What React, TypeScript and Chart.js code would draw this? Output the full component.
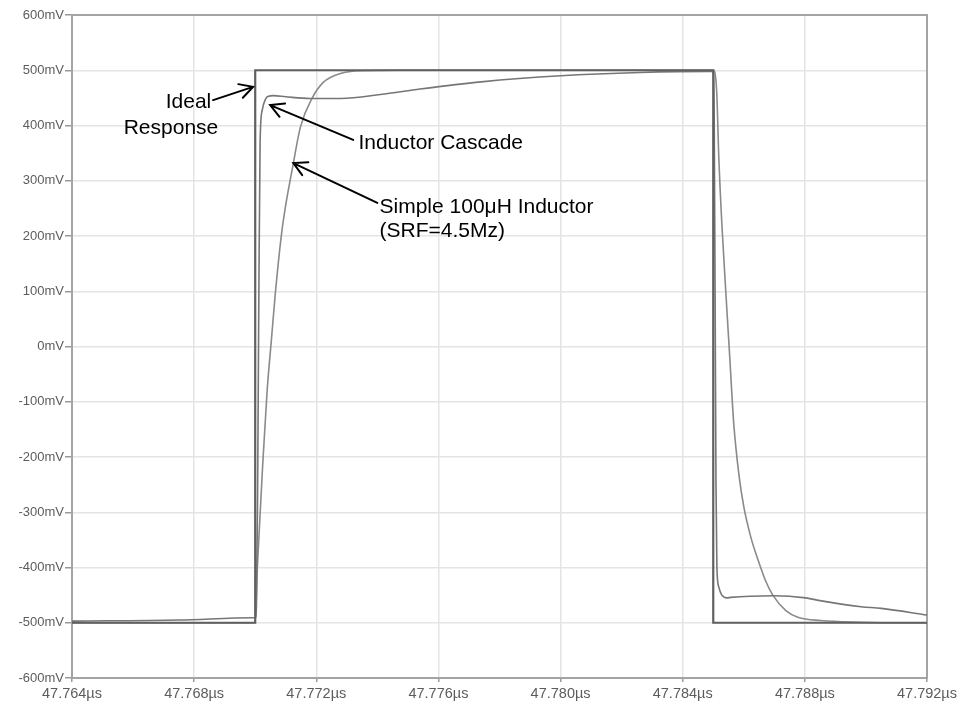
import React, { useEffect, useRef } from "react";
import { Chart, registerables } from "chart.js";

Chart.register(...registerables);

// Axis ticks (time in µs, voltage in mV)
const xTickValues = [47.764, 47.768, 47.772, 47.776, 47.78, 47.784, 47.788, 47.792];
const yTickValues = [-600, -500, -400, -300, -200, -100, 0, 100, 200, 300, 400, 500, 600];

// Ideal step response
const idealTime = [47.764, 47.77, 47.77, 47.785, 47.785, 47.792];
const idealMv = [-500, -500, 500, 500, -500, -500];

// Inductor cascade response
const cascadeTime = [
  47.764, 47.7675, 47.76995, 47.77, 47.77004, 47.77008, 47.77012, 47.77016, 47.77023,
  47.77033, 47.77043, 47.7706, 47.7710, 47.7718, 47.7728, 47.7741, 47.7754, 47.7774,
  47.78, 47.7826, 47.7849, 47.785, 47.78503, 47.78506, 47.78509, 47.78512, 47.78518,
  47.78528, 47.78545, 47.78557, 47.78698, 47.78803, 47.7884, 47.78984, 47.7905, 47.792,
];
const cascadeMv = [
  -497, -495, -491, -491, -470, -250, 100, 370, 428,
  447, 453, 454, 452, 449, 449, 456, 466, 479,
  490, 496, 498, 498, 420, 100, -250, -400, -435,
  -450, -455, -454, -451, -455, -459, -471, -474, -486,
];

// Simple 100µH inductor response
const simpleTime = [
  47.764, 47.77, 47.77007, 47.77026, 47.77039, 47.77053, 47.77066, 47.77089, 47.77125,
  47.77148, 47.77187, 47.77223, 47.77279, 47.77344, 47.77475, 47.785, 47.785115,
  47.78518, 47.785279, 47.78541, 47.785541, 47.785672, 47.785836, 47.786, 47.78623,
  47.786459, 47.78672, 47.78695, 47.787377, 47.78777, 47.78852, 47.789836, 47.791148, 47.792,
];
const simpleMv = [
  -500, -500, -400, -200, -80, 12, 97, 216, 332,
  397, 450, 478, 494, 499, 500, 500, 459,
  345, 225, 100, -20, -140, -230, -290, -345,
  -385, -425, -450, -478, -490, -496, -499, -500, -500,
];

// Callout text and arrows, anchored in data units (µs, mV)
type Label = { text: string; t: number; mv: number; align: CanvasTextAlign };
const labels: Label[] = [
  { text: "Ideal", t: 47.76856, mv: 442, align: "right" },
  { text: "Response", t: 47.76879, mv: 396, align: "right" },
  { text: "Inductor Cascade", t: 47.77338, mv: 368, align: "left" },
  { text: "Simple 100\u03bcH Inductor", t: 47.77407, mv: 252, align: "left" },
  { text: "(SRF=4.5Mz)", t: 47.77407, mv: 209, align: "left" },
];
type Arrow = { fromT: number; fromMv: number; toT: number; toMv: number };
const arrows: Arrow[] = [
  { fromT: 47.76862, fromMv: 446, toT: 47.76993, toMv: 470 },
  { fromT: 47.77321, fromMv: 374, toT: 47.77049, toMv: 437 },
  { fromT: 47.774, fromMv: 260, toT: 47.77125, toMv: 332 },
];

const toPoints = (ts: number[], vs: number[]) => ts.map((t, i) => ({ x: t, y: vs[i] }));

const FONT = '"Liberation Sans", Arial, Helvetica, sans-serif';

const calloutPlugin = {
  id: "callouts",
  beforeDatasetsDraw(chart: any) {
    const { ctx, chartArea } = chart;
    ctx.save();
    ctx.strokeStyle = "#a4a4a4";
    ctx.lineWidth = 2;
    ctx.strokeRect(chartArea.left, chartArea.top, chartArea.right - chartArea.left, chartArea.bottom - chartArea.top);
    ctx.restore();
  },
  afterDatasetsDraw(chart: any) {
    const { ctx } = chart;
    const xs = chart.scales.x;
    const ys = chart.scales.y;
    ctx.save();
    ctx.fillStyle = "#000";
    ctx.font = `21px ${FONT}`;
    ctx.textBaseline = "middle";
    for (const l of labels) {
      ctx.textAlign = l.align;
      ctx.fillText(l.text, xs.getPixelForValue(l.t), ys.getPixelForValue(l.mv));
    }
    ctx.strokeStyle = "#000";
    ctx.lineWidth = 2;
    ctx.lineCap = "round";
    for (const a of arrows) {
      const x1 = xs.getPixelForValue(a.fromT);
      const y1 = ys.getPixelForValue(a.fromMv);
      const x2 = xs.getPixelForValue(a.toT);
      const y2 = ys.getPixelForValue(a.toMv);
      const ang = Math.atan2(y2 - y1, x2 - x1);
      const head = 15;
      const spread = 0.5;
      ctx.beginPath();
      ctx.moveTo(x1, y1);
      ctx.lineTo(x2, y2);
      ctx.moveTo(x2 - head * Math.cos(ang - spread), y2 - head * Math.sin(ang - spread));
      ctx.lineTo(x2, y2);
      ctx.lineTo(x2 - head * Math.cos(ang + spread), y2 - head * Math.sin(ang + spread));
      ctx.stroke();
    }
    ctx.restore();
  },
};

export default function App() {
  const canvasRef = useRef<HTMLCanvasElement | null>(null);

  useEffect(() => {
    if (!canvasRef.current) return;
    const chart = new Chart(canvasRef.current, {
      type: "line",
      data: {
        datasets: [
          {
            label: "Ideal Response",
            data: toPoints(idealTime, idealMv),
            borderColor: "#606060",
            borderWidth: 2.2,
            pointRadius: 0,
            tension: 0,
          },
          {
            label: "Inductor Cascade",
            data: toPoints(cascadeTime, cascadeMv),
            borderColor: "#767676",
            borderWidth: 1.6,
            pointRadius: 0,
            cubicInterpolationMode: "monotone",
          },
          {
            label: "Simple 100\u03bcH Inductor",
            data: toPoints(simpleTime, simpleMv),
            borderColor: "#8a8a8a",
            borderWidth: 1.6,
            pointRadius: 0,
            cubicInterpolationMode: "monotone",
          },
        ],
      },
      options: {
        animation: false,
        responsive: false,
        devicePixelRatio: 1,
        layout: { padding: { top: 15, right: 73, left: 0, bottom: 0 } },
        plugins: {
          legend: { display: false },
          tooltip: { enabled: false },
          title: { display: false },
        },
        scales: {
          x: {
            type: "linear",
            min: 47.764,
            max: 47.792,
            afterBuildTicks: (scale: any) => {
              scale.ticks = xTickValues.map((v) => ({ value: v }));
            },
            afterFit: (scale: any) => {
              scale.height = 24;
            },
            grid: { color: "#e4e4e4", lineWidth: 1.5, tickLength: 4, tickColor: "#999" },
            border: { color: "#a4a4a4", width: 2 },
            ticks: {
              autoSkip: false,
              maxRotation: 0,
              padding: 3,
              color: "#5c5c5c",
              font: { family: FONT, size: 14.5 },
              callback: (v: any) => `${Number(v).toFixed(3)}\u00b5s`,
            },
          },
          y: {
            type: "linear",
            min: -600,
            max: 600,
            afterBuildTicks: (scale: any) => {
              scale.ticks = yTickValues.map((v) => ({ value: v }));
            },
            afterFit: (scale: any) => {
              scale.width = 72;
            },
            grid: { color: "#e4e4e4", lineWidth: 1.5, tickLength: 7, tickColor: "#999" },
            border: { color: "#a4a4a4", width: 2 },
            ticks: {
              autoSkip: false,
              padding: 1,
              color: "#5c5c5c",
              font: { family: FONT, size: 13 },
              callback: (v: any) => `${v}mV`,
            },
          },
        },
      },
      plugins: [calloutPlugin],
    } as any);
    return () => chart.destroy();
  }, []);

  return (
    <div
      style={{
        position: "fixed",
        left: 0,
        top: 0,
        width: 957,
        height: 702,
        overflow: "hidden",
        background: "#fff",
      }}
    >
      <canvas ref={canvasRef} width={1000} height={702} style={{ display: "block" }} />
    </div>
  );
}
